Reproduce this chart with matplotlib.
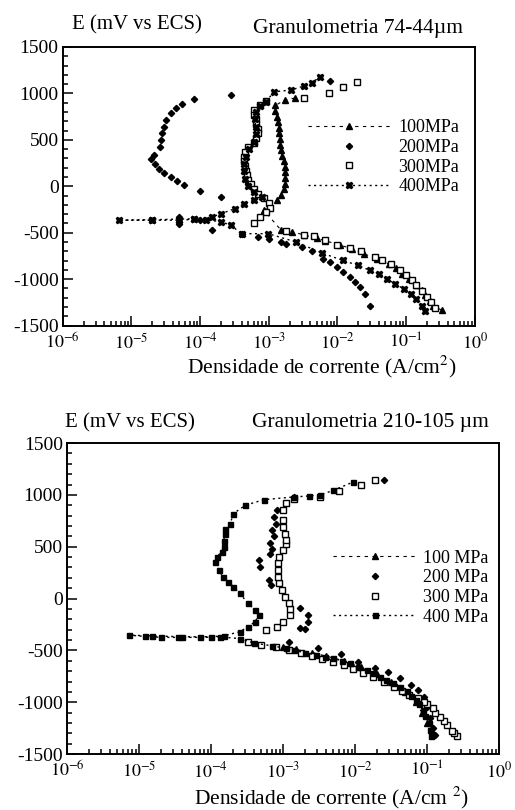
import numpy as np
import matplotlib
matplotlib.use("Agg")
import matplotlib.pyplot as plt
from matplotlib.ticker import MultipleLocator, LogLocator, FixedLocator, FixedFormatter

plt.rcParams['font.family'] = ['Liberation Serif', 'DejaVu Serif']
plt.rcParams['mathtext.fontset'] = 'stix'
plt.rcParams['axes.unicode_minus'] = False

labels_top = ['100MPa', '200MPa', '300MPa', '400MPa']
labels_bot = ['100 MPa', '200 MPa', '300 MPa', '400 MPa']
decades = [1e-6, 1e-5, 1e-4, 1e-3, 1e-2, 1e-1, 1e0]
decade_labels = ['$10^{-6}$', '$10^{-5}$', '$10^{-4}$', '$10^{-3}$', '$10^{-2}$', '$10^{-1}$', '$10^{0}$']

# ---- Granulometria 74-44 um (top panel) ----
# 100 MPa
t100_i = [2.4e-3, 1.7e-3, 1.25e-3, 1.25e-3, 1.3e-3, 1.35e-3, 1.4e-3, 1.4e-3, 1.45e-3, 1.45e-3,
          1.5e-3, 1.55e-3, 1.65e-3, 1.7e-3, 1.7e-3, 1.7e-3, 1.7e-3, 1.65e-3, 1.5e-3, 1.3e-3,
          1.05e-3, 8.5e-4, 1.5e-3, 2.2e-3, 3.3e-3, 5e-3, 6.6e-3, 1.1e-2, 1.6e-2, 2.4e-2,
          3.7e-2, 5.6e-2, 7e-2, 8.7e-2, 0.11, 0.14, 0.17, 0.19, 0.22, 0.25, 0.33]
t100_E = [950, 930, 870, 810, 750, 690, 630, 570, 510, 450,
          390, 330, 270, 210, 150, 90, 30, -30, -90, -150,
          -210, -260, -470, -490, -525, -560, -585, -635, -670, -725,
          -780, -835, -880, -940, -1000, -1065, -1120, -1175, -1230, -1285, -1335]
# 200 MPa
t200_i = [7.8e-3, 2.8e-4, 8e-5, 5.5e-5, 4.4e-5, 3.7e-5, 3.2e-5, 3.0e-5, 2.8e-5, 2.7e-5,
          2.6e-5, 2.1e-5, 1.95e-5, 2.2e-5, 2.5e-5, 3.0e-5, 3.7e-5, 4.6e-5, 5.8e-5, 1.0e-4,
          2.0e-4, 5e-5, 5e-5, 5e-5, 1e-4, 1.5e-4, 4e-4, 7e-4, 1e-3, 1.5e-3,
          1.8e-3, 3e-3, 4.2e-3, 6.2e-3, 7.7e-3, 1e-2, 1.2e-2, 1.5e-2, 1.8e-2, 2.1e-2,
          2.5e-2, 3.0e-2]
t200_E = [1130, 980, 940, 890, 840, 785, 710, 640, 570, 500,
          425, 335, 290, 240, 190, 145, 100, 55, 10, -50,
          -115, -330, -380, -410, -360, -475, -510, -545, -565, -600,
          -618, -655, -700, -780, -816, -870, -924, -978, -1032, -1086,
          -1158, -1284]
# 300 MPa
t300_i = [1.9e-2, 1.2e-2, 7.4e-3, 3.2e-3, 9e-4, 7.5e-4, 6e-4, 6e-4, 6.5e-4, 6.5e-4,
          7e-4, 7e-4, 6.5e-4, 6e-4, 5e-4, 4.5e-4, 4.4e-4, 4.4e-4, 4.5e-4, 4.6e-4,
          4.8e-4, 5e-4, 5.5e-4, 6e-4, 7e-4, 8.5e-4, 1e-3, 1.05e-3, 9e-4, 7.5e-4,
          6e-4, 1.8e-3, 3.3e-3, 4.5e-3, 6.6e-3, 1e-2, 1.5e-2, 2.2e-2, 3.5e-2, 4.5e-2,
          6e-2, 8e-2, 0.1, 0.12, 0.14, 0.17, 0.2, 0.23, 0.26]
t300_E = [1125, 1065, 1005, 955, 920, 870, 820, 770, 720, 670,
          620, 570, 520, 470, 420, 370, 320, 270, 220, 170,
          120, 70, 20, -30, -80, -130, -180, -230, -280, -330,
          -390, -480, -520, -540, -580, -630, -665, -700, -760, -790,
          -840, -900, -950, -1010, -1060, -1130, -1190, -1250, -1310]
# 400 MPa
t400_i = [0.19, 0.17, 0.137, 0.116, 9.2e-2, 6.9e-2, 5.2e-2, 4e-2, 3e-2, 2e-2,
          1.2e-2, 6e-3, 2.5e-3, 9.8e-4, 4e-4, 2.8e-4, 2e-4, 1.2e-4, 8e-5, 5e-5,
          2e-5, 6.5e-6, 2e-5, 8e-5, 1.5e-4, 2e-4, 3.2e-4, 4.4e-4, 6e-4, 8e-4,
          6e-4, 5e-4, 4.5e-4, 4.3e-4, 4.3e-4, 4.6e-4, 5.2e-4, 6e-4, 6.5e-4, 6.5e-4,
          6.2e-4, 6.5e-4, 7.5e-4, 9e-4, 1.2e-3, 2.1e-3, 3.2e-3, 4.2e-3, 5.5e-3]
t400_E = [-1338, -1284, -1212, -1158, -1104, -1050, -996, -942, -906, -852,
          -798, -720, -600, -510, -510, -420, -380, -360, -355, -365,
          -365, -365, -360, -350, -330, -295, -241, -187, -150, -120,
          -60, 0, 80, 160, 240, 320, 400, 480, 560, 640,
          720, 800, 860, 910, 1018, 1036, 1079, 1115, 1173]

# ---- Granulometria 210-105 um (bottom panel) ----
# 100 MPa
b100_i = [0.12, 0.1, 0.085, 0.07, 0.05, 0.032, 0.02, 0.012, 0.007, 0.004,
          0.0025, 0.0015, 1e-3]
b100_E = [-1300, -1200, -1100, -1000, -900, -800, -730, -660, -600, -555,
          -520, -490, -470]
# 200 MPa
b200_i = [0.13, 0.12, 0.11, 0.1, 0.09, 0.075, 0.06, 4.2e-2, 2.9e-2, 1.9e-2,
          1.1e-2, 6.4e-3, 3.1e-3, 1.2e-3, 2e-3, 1.7e-3, 2.2e-3, 2.2e-3, 1.7e-3, 6.9e-4,
          6.3e-4, 4.8e-4, 4.6e-4, 6.5e-4, 7e-4, 6.5e-4, 7.5e-4, 7e-4, 8e-4, 7.5e-4,
          8.2e-4, 1.4e-3, 2.5e-2]
b200_E = [-1320, -1250, -1150, -1050, -950, -880, -830, -768, -704, -672,
          -608, -534, -480, -416, -290, -287, -223, -159, -95, 130,
          178, 306, 370, 430, 480, 540, 600, 660, 720, 790,
          852, 980, 1141]
# 300 MPa
b300_i = [0.26, 0.24, 0.22, 0.19, 0.17, 0.15, 0.13, 0.12, 0.1, 0.09,
          0.075, 0.057, 0.045, 0.035, 0.025, 0.018, 0.013, 0.0095, 0.007, 0.005,
          0.0035, 0.0025, 0.0018, 0.0012, 8e-4, 5e-4, 3.3e-4, 5.9e-4, 8.2e-4, 1.0e-3,
          1.25e-3, 1.25e-3, 1.2e-3, 1.05e-3, 9.6e-4, 8.8e-4, 8.6e-4, 8.6e-4, 8.6e-4, 8.8e-4,
          1.0e-3, 1.1e-3, 1.1e-3, 1.05e-3, 1.0e-3, 1.0e-3, 1.0e-3, 1.1e-3, 1.4e-3, 3.3e-3,
          6e-3, 1.2e-2, 1.9e-2]
b300_E = [-1330, -1300, -1280, -1220, -1180, -1140, -1100, -1058, -1020, -995,
          -960, -930, -890, -850, -800, -760, -720, -680, -640, -610,
          -580, -550, -520, -495, -470, -450, -416, -303, -271, -223,
          -159, -100, -47, 20, 82, 150, 210, 280, 340, 403,
          470, 530, 563, 620, 690, 760, 852, 920, 960, 980,
          1040, 1092, 1141]
# 400 MPa
b400_i = [0.115, 0.11, 0.105, 0.095, 0.089, 0.078, 0.071, 0.06, 0.052, 0.042,
          0.034, 0.027, 0.022, 0.018, 0.0145, 0.011, 0.0085, 0.0065, 0.005, 0.0038,
          0.0029, 0.002, 0.0014, 0.0011, 7e-4, 4e-4, 2.5e-4, 1.35e-4, 7e-5, 3.5e-5,
          2e-5, 1.2e-5, 7.2e-6, 1.5e-5, 4e-5, 1e-4, 1.5e-4, 2.5e-4, 3.3e-4, 4.1e-4,
          4.6e-4, 4.1e-4, 3.3e-4, 2.5e-4, 2.05e-4, 1.74e-4, 1.45e-4, 1.3e-4, 1.14e-4, 1.2e-4,
          1.4e-4, 1.5e-4, 1.5e-4, 1.57e-4, 1.57e-4, 1.85e-4, 2.05e-4, 3.0e-4, 5.4e-4, 1.4e-3,
          2.3e-3, 3.3e-3, 5e-3, 9.5e-3]
b400_E = [-1330, -1270, -1200, -1130, -1075, -1020, -975, -935, -895, -855,
          -815, -785, -755, -720, -690, -655, -625, -600, -575, -560,
          -545, -520, -500, -480, -455, -430, -385, -370, -374, -374,
          -374, -365, -352, -360, -368, -368, -360, -320, -271, -223,
          -159, -111, -47, 50, 114, 162, 210, 274, 350, 403,
          450, 499, 560, 620, 675, 723, 820, 900, 954, 980,
          990, 1000, 1044, 1125]

styles = [
    dict(marker='^', ms=4.0, ls=(0, (3, 4)), lw=0.8, color='black'),
    dict(marker='D', ms=3.2, ls='none', color='black'),
    dict(marker='s', ms=3.8, ls='none', color='black', mfc='white', mew=1.0),
    dict(marker='X', ms=4.4, ls=(0, (1.5, 2.5)), lw=1.0, color='black'),
]


def style_axes(ax):
    ax.set_xscale('log')
    ax.set_xlim(1e-6, 1)
    ax.set_ylim(-1500, 1500)
    ax.yaxis.set_major_locator(MultipleLocator(500))
    ax.yaxis.set_minor_locator(MultipleLocator(100))
    ax.xaxis.set_major_locator(FixedLocator(decades))
    ax.xaxis.set_major_formatter(FixedFormatter(decade_labels))
    ax.xaxis.set_minor_locator(LogLocator(base=10, subs=np.arange(2, 10), numticks=10))
    ax.tick_params(which='both', direction='in', top=False, right=False, width=1.1)
    ax.tick_params(which='major', length=7, pad=5)
    ax.tick_params(which='minor', length=3.5)
    ax.tick_params(axis='x', which='major', labelsize=13)
    ax.tick_params(axis='y', which='major', labelsize=14, pad=3)
    for sp in ax.spines.values():
        sp.set_linewidth(1.4)


fig = plt.figure(figsize=(5.15, 8.1), dpi=100)

# top panel
ax1 = fig.add_axes([0.122, 0.598, 0.800, 0.344])
series_top = [(t100_i, t100_E), (t200_i, t200_E), (t300_i, t300_E), (t400_i, t400_E)]
for (xs, ys), lab, st in zip(series_top, labels_top, styles):
    ax1.plot(xs, ys, label=lab, **st)
style_axes(ax1)
ax1.legend(loc='center left', bbox_to_anchor=(0.595, 0.604), frameon=False, fontsize=13,
           handlelength=4.6, handletextpad=0.4, labelspacing=0.15, borderpad=0,
           borderaxespad=0, numpoints=1)
fig.text(0.140, 0.969, 'E (mV vs ECS)', fontsize=15, va='center', ha='left')
fig.text(0.491, 0.965, 'Granulometria 74-44µm', fontsize=15.5, va='center', ha='left')
fig.text(0.625, 0.547, 'Densidade de corrente (A/cm$^2$)', fontsize=15.5, va='center', ha='center')

# bottom panel
ax2 = fig.add_axes([0.130, 0.069, 0.839, 0.384])
series_bot = [(b100_i, b100_E), (b200_i, b200_E), (b300_i, b300_E), (b400_i, b400_E)]
styles_bot = [dict(s) for s in styles]
styles_bot[3]['marker'] = 's'
styles_bot[3]['ms'] = 3.6
for (xs, ys), lab, st in zip(series_bot, labels_bot, styles_bot):
    ax2.plot(xs, ys, label=lab, **st)
style_axes(ax2)
ax2.legend(loc='center left', bbox_to_anchor=(0.616, 0.535), frameon=False, fontsize=13,
           handlelength=4.6, handletextpad=0.4, labelspacing=0.15, borderpad=0,
           borderaxespad=0, numpoints=1)
fig.text(0.126, 0.478, 'E (mV vs ECS)', fontsize=15, va='center', ha='left')
fig.text(0.489, 0.478, 'Granulometria 210-105 µm', fontsize=15.5, va='center', ha='left')
fig.text(0.643, 0.015, 'Densidade de corrente (A/cm $^2$)', fontsize=15.5, va='center', ha='center')

fig.savefig('out.png', dpi=100, facecolor='white')
